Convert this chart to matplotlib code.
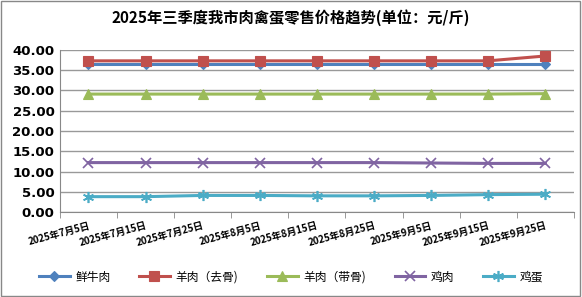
import matplotlib.pyplot as plt
import numpy as np
from matplotlib.patches import Rectangle

plt.rcParams['font.family'] = ['Noto Sans CJK SC', 'DejaVu Sans']

dates = ['2025年7月5日', '2025年7月15日', '2025年7月25日', '2025年8月5日', '2025年8月15日',
         '2025年8月25日', '2025年9月5日', '2025年9月15日', '2025年9月25日']
beef = [36.5, 36.5, 36.5, 36.5, 36.5, 36.5, 36.5, 36.5, 36.5]
mutton_boneless = [37.3, 37.3, 37.3, 37.3, 37.3, 37.3, 37.3, 37.3, 38.5]
mutton_bone = [29.1, 29.1, 29.1, 29.1, 29.1, 29.1, 29.1, 29.1, 29.2]
chicken = [12.2, 12.2, 12.2, 12.2, 12.2, 12.2, 12.1, 12.0, 12.0]
eggs = [3.8, 3.8, 4.1, 4.1, 4.0, 4.0, 4.1, 4.3, 4.4]

names = ['鲜牛肉', '羊肉（去骨)', '羊肉（带骨)', '鸡肉', '鸡蛋']
series = [beef, mutton_boneless, mutton_bone, chicken, eggs]
colors = ['#4F81BD', '#C0504D', '#9BBB59', '#8064A2', '#4BACC6']
markers = ['D', 's', '^', 'x', (6, 2, 0)]
msizes = [5, 7, 7, 7, 8]

fig = plt.figure(figsize=(5.82, 2.97), dpi=100)
fig.patches.append(Rectangle((0.002, 0.004), 0.995, 0.992, transform=fig.transFigure,
                             fill=False, edgecolor='#888888', linewidth=1))
ax = fig.add_axes([0.103, 0.286, 0.883, 0.546])

x = np.arange(len(dates))
for vals, name, c, m, ms in zip(series, names, colors, markers, msizes):
    ax.plot(x, vals, color=c, marker=m, markersize=ms, linewidth=2.2, label=name,
            markeredgewidth=1.2 if m in ('x', (6, 2, 0)) else 0.8)

ax.set_xlim(-0.5, len(dates) - 0.5)
ax.set_ylim(0, 40)
ax.set_yticks(np.arange(0, 41, 5))
ax.set_yticklabels([f'{v:.2f}' for v in np.arange(0, 41, 5)], fontsize=9.5,
                   fontweight='bold', family='DejaVu Sans')
ax.yaxis.grid(True, color='#999999', linewidth=1)
ax.set_axisbelow(True)
ax.tick_params(axis='y', length=0, pad=4)

ax.set_xticks(x)
ax.set_xticklabels(dates, rotation=15, fontsize=7, fontweight='bold', ha='right',
                   rotation_mode='anchor')
ax.set_xticks(np.arange(-0.5, len(dates), 1), minor=True)
ax.tick_params(axis='x', which='major', length=0, pad=6)
ax.tick_params(axis='x', which='minor', length=4, color='#888888')

for s in ['top', 'right']:
    ax.spines[s].set_visible(False)
ax.spines['left'].set_color('#888888')
ax.spines['bottom'].set_color('#888888')

fig.text(0.5, 0.94, '2025年三季度我市肉禽蛋零售价格趋势(单位：元/斤)', ha='center', va='center',
         fontsize=11, fontweight='bold')

fig.legend(loc='center', bbox_to_anchor=(0.5, 0.067), ncol=5, frameon=False, fontsize=8.5,
           handlelength=2.6, handletextpad=0.5, columnspacing=2.4)

fig.savefig('out.png', dpi=100)
